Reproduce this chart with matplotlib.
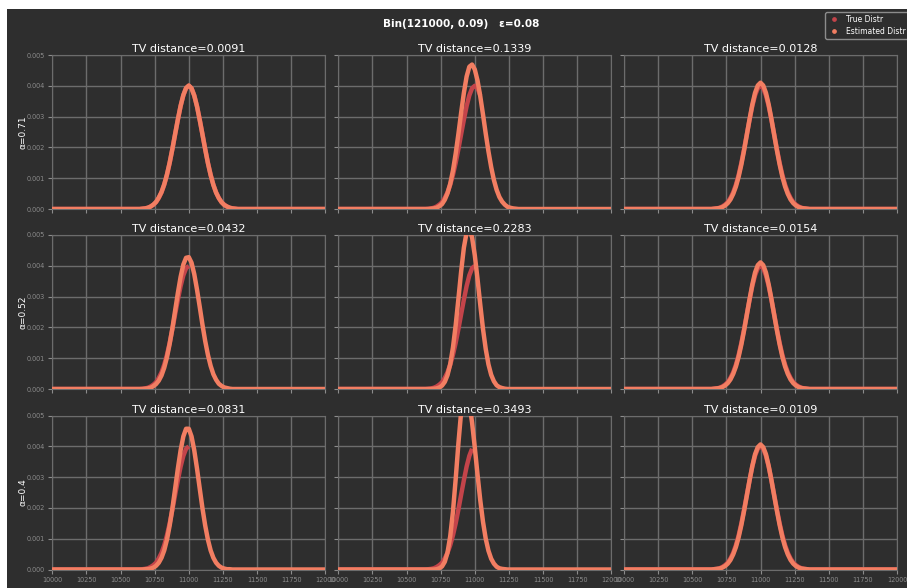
import matplotlib.pyplot as plt
import numpy as np
from matplotlib.patches import Rectangle
from matplotlib.lines import Line2D

# sample positions: flat zero tails, dense grid around the peak
x_grid = np.concatenate([[10000], np.arange(10600, 11401, 20), [12000]])

true_pdf = [0, 0, 0, 0, .00001, .00002, .00004, .00008, .00014, .00022, .00036, .00054, .00079, .00111,
            .00150, .00195, .00243, .00290, .00334, .00369, .00392, .00400, .00392, .00369, .00334, .00290,
            .00243, .00195, .00150, .00111, .00079, .00054, .00036, .00022, .00014, .00008, .00004, .00002,
            .00001, 0, 0, 0, 0]

est_pdf = [
    # row alpha=0.71
    [0, 0, 0, 0, .00001, .00002, .00004, .00008, .00014, .00023, .00037, .00055, .00080, .00112,
     .00151, .00196, .00244, .00291, .00335, .00370, .00393, .00401, .00392, .00368, .00333, .00289,
     .00242, .00194, .00149, .00110, .00078, .00053, .00035, .00022, .00013, .00008, .00004, .00002,
     .00001, 0, 0, 0, 0],
    [0, 0, 0, 0, 0, .00001, .00002, .00004, .00009, .00016, .00030, .00051, .00082, .00125,
     .00180, .00244, .00313, .00377, .00430, .00462, .00469, .00453, .00417, .00366, .00307, .00245,
     .00187, .00136, .00094, .00062, .00039, .00024, .00014, .00007, .00004, .00002, .00001, 0,
     0, 0, 0, 0, 0],
    [0, 0, 0, 0, .00001, .00002, .00003, .00006, .00011, .00019, .00031, .00049, .00073, .00105,
     .00145, .00191, .00241, .00292, .00339, .00377, .00401, .00410, .00401, .00377, .00339, .00292,
     .00241, .00191, .00145, .00105, .00073, .00049, .00031, .00019, .00011, .00006, .00003, .00002,
     .00001, 0, 0, 0, 0],
    # row alpha=0.52
    [0, 0, 0, 0, 0, .00001, .00002, .00004, .00009, .00016, .00027, .00044, .00069, .00103,
     .00147, .00198, .00255, .00312, .00364, .00404, .00426, .00428, .00410, .00373, .00323, .00267,
     .00209, .00156, .00111, .00075, .00048, .00030, .00017, .00010, .00005, .00003, .00001, 0,
     0, 0, 0, 0, 0],
    [0, 0, 0, 0, 0, 0, .00001, .00002, .00005, .00011, .00023, .00045, .00081, .00135,
     .00207, .00293, .00382, .00459, .00508, .00519, .00492, .00434, .00357, .00274, .00195, .00130,
     .00080, .00046, .00025, .00012, .00006, .00003, .00001, 0, 0, 0, 0, 0,
     0, 0, 0, 0, 0],
    [0, 0, 0, 0, .00001, .00002, .00003, .00006, .00011, .00019, .00031, .00049, .00073, .00105,
     .00145, .00191, .00241, .00292, .00339, .00378, .00402, .00411, .00402, .00378, .00339, .00292,
     .00241, .00191, .00145, .00105, .00073, .00049, .00031, .00019, .00011, .00006, .00003, .00002,
     .00001, 0, 0, 0, 0],
    # row alpha=0.4
    [0, 0, 0, 0, 0, .00001, .00001, .00003, .00006, .00012, .00022, .00038, .00062, .00097,
     .00143, .00199, .00263, .00328, .00387, .00432, .00457, .00457, .00432, .00387, .00328, .00263,
     .00199, .00143, .00097, .00062, .00038, .00022, .00012, .00006, .00003, .00001, .00001, 0,
     0, 0, 0, 0, 0],
    [0, 0, 0, 0, 0, 0, 0, .00001, .00004, .00010, .00025, .00055, .00108, .00188,
     .00294, .00410, .00512, .00572, .00575, .00541, .00477, .00396, .00308, .00225, .00155, .00100,
     .00061, .00035, .00019, .00009, .00004, .00002, .00001, 0, 0, 0, 0, 0,
     0, 0, 0, 0, 0],
    [0, 0, 0, 0, .00001, .00002, .00003, .00006, .00011, .00019, .00031, .00049, .00073, .00105,
     .00145, .00191, .00240, .00290, .00336, .00374, .00397, .00406, .00397, .00374, .00336, .00290,
     .00240, .00191, .00145, .00105, .00073, .00049, .00031, .00019, .00011, .00006, .00003, .00002,
     .00001, 0, 0, 0, 0],
]

# the true curve is only seen up to about here in each panel
true_end = [12000, 11050, 12000, 11000, 11005, 12000, 11012, 10990, 12000]

tv_dist = ['0.0091', '0.1339', '0.0128', '0.0432', '0.2283', '0.0154', '0.0831', '0.3493', '0.0109']
alphas = ['0.71', '0.52', '0.4']
x_ticks = [10000, 10250, 10500, 10750, 11000, 11250, 11500, 11750, 12000]
y_ticks = [0.000, 0.001, 0.002, 0.003, 0.004, 0.005]

BG = '#2e2e2e'
GRID = '#6c6c6c'
TICK = '#8c8c8c'
TRUE_C = '#c4444a'
EST_C = '#f27e62'

W, H = 907, 588
fig = plt.figure(figsize=(W / 100, H / 100), dpi=100, facecolor='white')
fig.patches.append(Rectangle((7 / W, 0), 1, 1 - 9 / H, transform=fig.transFigure,
                             facecolor=BG, edgecolor='none', zorder=-10))

lefts = [52.3, 338.3, 624.0]
tops = [55.0, 235.0, 415.5]
aw, ah = 273.0, 154.0

for i in range(9):
    r, c = divmod(i, 3)
    ax = fig.add_axes([lefts[c] / W, 1 - (tops[r] + ah) / H, aw / W, ah / H])
    ax.set_facecolor(BG)
    ax.set_xlim(10000, 12000)
    ax.set_ylim(0, 0.005)
    ax.set_xticks(x_ticks)
    ax.set_yticks(y_ticks)
    ax.grid(True, color=GRID, linewidth=1)
    ax.set_axisbelow(True)
    for s in ax.spines.values():
        s.set_color(GRID)
    ax.tick_params(colors=TICK, labelsize=4.7, length=3, width=0.8, pad=2.5)
    if c == 0:
        ax.set_yticklabels([f'{v:.3f}' for v in y_ticks])
        ax.set_ylabel(f'α={alphas[r]}', color='white', fontsize=6.5)
        ax.yaxis.set_label_coords(-25 / aw, 0.5)
    else:
        ax.set_yticklabels([])
    if r < 2:
        ax.set_xticklabels([])

    m = x_grid <= true_end[i]
    ax.plot(x_grid[m], np.array(true_pdf)[m], color=TRUE_C, lw=3.2, solid_capstyle='butt', zorder=3)
    ax.plot(x_grid, est_pdf[i], color=EST_C, lw=3.2, zorder=4)
    ax.set_title(f'TV distance={tv_dist[i]}', color='white', fontsize=8, pad=2)

fig.text(461 / W, 1 - 24 / H, 'Bin(121000, 0.09)   ε=0.08', ha='center', va='center',
         color='white', fontweight='bold', fontsize=7.5)

handles = [Line2D([], [], ls='none', marker='o', markersize=2.4, color=TRUE_C),
           Line2D([], [], ls='none', marker='o', markersize=2.4, color=EST_C)]
leg = fig.legend(handles, ['True Distr', 'Estimated Distr'], loc='upper left',
                 bbox_to_anchor=(825 / W, 1 - 12 / H), fontsize=5.5, facecolor=BG,
                 edgecolor='#8c8c8c', labelcolor='white', framealpha=1, fancybox=True,
                 handlelength=1.6, handletextpad=0.7, borderpad=0.4, labelspacing=0.35,
                 borderaxespad=0)

fig.savefig('out.png', dpi=100, facecolor=fig.get_facecolor())
